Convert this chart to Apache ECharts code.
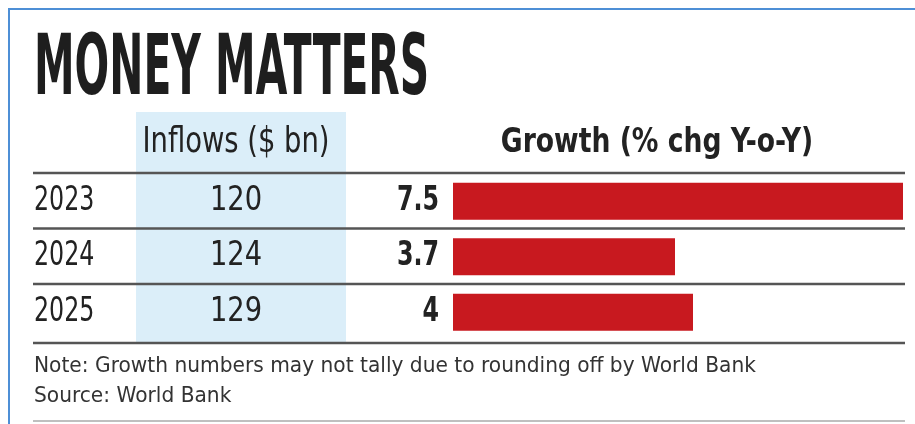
<!DOCTYPE html>
<html>
<head>
<meta charset="utf-8">
<script src="https://cdn.jsdelivr.net/npm/echarts@6/dist/echarts.min.js"></script>
<style>
  html, body { margin: 0; padding: 0; background: #fff; }
  #main { width: 915px; height: 424px; }
</style>
</head>
<body>
<div id="main"></div>
<script>
// data
const years = ['2023', '2024', '2025'];
const inflows = [120, 124, 129];       // $ bn
const growth = [7.5, 3.7, 4];          // % chg Y-o-Y

const FONT = '"DejaVu Sans Condensed", "Liberation Sans Narrow", sans-serif';
const INK = '#222';
const RULE = '#555';

const chart = echarts.init(document.getElementById('main'), null, { renderer: 'canvas' });

// horizontal rules across the table
function rule(y, color, w) {
  return {
    type: 'line', z: 10,
    shape: { x1: 33, y1: y, x2: 905, y2: y },
    style: { stroke: color || RULE, lineWidth: w || 2.5 }
  };
}

// one text column of the table, rows placed through the category scale
function textColumn(values, x, align, squeeze, weight) {
  return {
    type: 'custom',
    data: values.map((v, i) => [i, v]),
    clip: false,
    silent: true,
    renderItem: function (params, api) {
      const y = api.coord([0, api.value(0)])[1];
      return {
        type: 'text',
        x: x, y: y, scaleX: squeeze,
        style: {
          text: String(values[params.dataIndex]),
          font: (weight || 'normal') + ' 33px ' + FONT, fill: INK,
          textAlign: align, textVerticalAlign: 'middle'
        }
      };
    }
  };
}

const option = {
  backgroundColor: '#fff',
  animation: false,
  grid: { left: 453, right: 12, top: 173.5, bottom: 84, containLabel: false },
  xAxis: { type: 'value', min: 0, max: 7.5, show: false },
  yAxis: {
    type: 'category', data: years, inverse: true,
    axisLine: { show: false }, axisTick: { show: false }, splitLine: { show: false },
    axisLabel: { show: false }
  },
  graphic: [
    // frame (blue corner)
    { type: 'line', shape: { x1: 9, y1: 8, x2: 9, y2: 424 }, style: { stroke: '#4d8fd6', lineWidth: 2 } },
    { type: 'line', shape: { x1: 8, y1: 9, x2: 915, y2: 9 }, style: { stroke: '#4d8fd6', lineWidth: 2 } },
    // shaded inflows column
    { type: 'rect', z: -1, shape: { x: 136, y: 112, width: 210, height: 231 }, style: { fill: '#dbeef9' } },
    {
      type: 'text', x: 34, y: 30, scaleX: 0.54,
      style: { text: 'MONEY MATTERS', font: 'bold 84px ' + FONT, fill: '#1e1e1e', textVerticalAlign: 'top' }
    },
    {
      type: 'text', x: 236, y: 143, scaleX: 0.87,
      style: { text: 'Inflows ($ bn)', font: '35px ' + FONT, fill: INK, textAlign: 'center', textVerticalAlign: 'middle' }
    },
    {
      type: 'text', x: 657, y: 143, scaleX: 0.87,
      style: { text: 'Growth (% chg Y-o-Y)', font: 'bold 34px ' + FONT, fill: INK, textAlign: 'center', textVerticalAlign: 'middle' }
    },
    rule(173), rule(228.5), rule(284), rule(343),
    {
      type: 'text', x: 34, y: 366, scaleX: 1.02,
      style: { text: 'Note: Growth numbers may not tally due to rounding off by World Bank', font: '22px ' + FONT, fill: '#333', textVerticalAlign: 'middle' }
    },
    {
      type: 'text', x: 34, y: 396, scaleX: 1.02,
      style: { text: 'Source: World Bank', font: '22px ' + FONT, fill: '#333', textVerticalAlign: 'middle' }
    },
    rule(421, '#aaa', 1.5)
  ],
  series: [
    {
      type: 'bar',
      data: growth,
      barWidth: 37,
      itemStyle: { color: '#c8191f' },
      label: { show: false }
    },
    textColumn(years, 34, 'left', 0.8),
    textColumn(inflows, 236, 'center', 0.92),
    textColumn(growth, 439, 'right', 0.8, 'bold')
  ]
};

chart.setOption(option);
</script>
</body>
</html>
